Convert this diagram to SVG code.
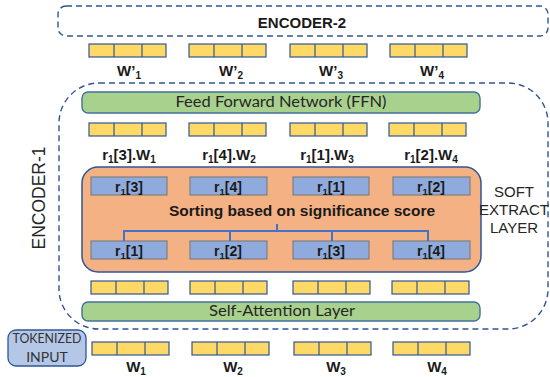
<svg xmlns="http://www.w3.org/2000/svg" width="550" height="377" viewBox="0 0 550 377">
<defs>
<style>
.dash{fill:none;stroke:#2f5597;stroke-width:1.4;stroke-dasharray:6 4}
.y{fill:#ffd966;stroke:#2f5597;stroke-width:1.2}
.dv{stroke:#2f5597;stroke-width:1.2}
.g{fill:#a9d18e;stroke:#41719c;stroke-width:1.4}
.b{fill:#8faadc;stroke:#7f7f7f;stroke-width:1.2}
.bl{font-family:"Liberation Sans",Arial,sans-serif;font-weight:bold;font-size:15px;fill:#1a1a1a;text-anchor:middle}
.bb{font-family:"Liberation Sans",Arial,sans-serif;font-weight:bold;font-size:14px;fill:#1a1a1a;text-anchor:middle}
.n{font-family:"Liberation Sans",Arial,sans-serif;font-size:15px;fill:#262626;text-anchor:middle}
.c{font-family:Lato,"Liberation Sans",sans-serif;font-size:15.5px;fill:#262626;text-anchor:middle}
.con{fill:none;stroke:#4472c4;stroke-width:2}
</style>
<g id="vec">
<rect class="y" x="0" y="0" width="77" height="13"/>
<line class="dv" x1="25" y1="0" x2="25" y2="13"/>
<line class="dv" x1="53" y1="0" x2="53" y2="13"/>
</g>
</defs>

<g id="encoder2">
<rect class="dash" x="58" y="6" width="490" height="30" rx="8"/>
<text class="bl" x="302" y="28">ENCODER-2</text>
</g>

<g id="wprime-row">
<use href="#vec" x="89" y="44"/>
<use href="#vec" x="189" y="44"/>
<use href="#vec" x="290" y="44"/>
<use href="#vec" x="390" y="44"/>
<text class="bl" x="129" y="76">W’<tspan dy="3" font-size="10">1</tspan></text>
<text class="bl" x="231" y="76">W’<tspan dy="3" font-size="10">2</tspan></text>
<text class="bl" x="331" y="76">W’<tspan dy="3" font-size="10">3</tspan></text>
<text class="bl" x="432" y="76">W’<tspan dy="3" font-size="10">4</tspan></text>
</g>

<g id="encoder1">
<rect class="dash" x="59" y="83" width="489" height="246" rx="40"/>
<text class="n" style="font-size:17.5px" transform="translate(45,198) rotate(-90)">ENCODER-1</text>
</g>

<g id="ffn">
<rect class="g" x="82" y="92" width="398" height="21" rx="6"/>
<text class="c" x="281" y="107" textLength="211" lengthAdjust="spacingAndGlyphs">Feed Forward Network (FFN)</text>
</g>

<g id="ffn-out-row">
<use href="#vec" x="89" y="123"/>
<use href="#vec" x="189" y="123"/>
<use href="#vec" x="290" y="123"/>
<use href="#vec" x="389" y="123"/>
<text class="bl" x="129" y="160">r<tspan dy="3" font-size="10">1</tspan><tspan dy="-3">[3].W</tspan><tspan dy="3" font-size="10">1</tspan></text>
<text class="bl" x="229" y="160">r<tspan dy="3" font-size="10">1</tspan><tspan dy="-3">[4].W</tspan><tspan dy="3" font-size="10">2</tspan></text>
<text class="bl" x="327" y="160">r<tspan dy="3" font-size="10">1</tspan><tspan dy="-3">[1].W</tspan><tspan dy="3" font-size="10">3</tspan></text>
<text class="bl" x="431" y="160">r<tspan dy="3" font-size="10">1</tspan><tspan dy="-3">[2].W</tspan><tspan dy="3" font-size="10">4</tspan></text>
</g>

<g id="soft-extract">
<rect x="82" y="167" width="399" height="105" rx="16" fill="#f4b183" stroke="#2f5597" stroke-width="1.5"/>
<text class="bl" x="302" y="216" style="font-size:15.5px">Sorting based on significance score</text>
</g>

<g id="sorted-top">
<rect class="b" x="91" y="177" width="76" height="18"/>
<rect class="b" x="190" y="177" width="77" height="18"/>
<rect class="b" x="293" y="177" width="76" height="18"/>
<rect class="b" x="393" y="177" width="77" height="18"/>
<text class="bb" x="129" y="192">r<tspan dy="3" font-size="9.5">1</tspan><tspan dy="-3">[3]</tspan></text>
<text class="bb" x="228" y="192">r<tspan dy="3" font-size="9.5">1</tspan><tspan dy="-3">[4]</tspan></text>
<text class="bb" x="331" y="192">r<tspan dy="3" font-size="9.5">1</tspan><tspan dy="-3">[1]</tspan></text>
<text class="bb" x="431" y="192">r<tspan dy="3" font-size="9.5">1</tspan><tspan dy="-3">[2]</tspan></text>
</g>

<g id="original-bottom">
<rect class="b" x="91" y="241" width="76" height="18"/>
<rect class="b" x="190" y="241" width="77" height="18"/>
<rect class="b" x="293" y="241" width="76" height="18"/>
<rect class="b" x="393" y="241" width="77" height="18"/>
<text class="bb" x="129" y="256">r<tspan dy="3" font-size="9.5">1</tspan><tspan dy="-3">[1]</tspan></text>
<text class="bb" x="228" y="256">r<tspan dy="3" font-size="9.5">1</tspan><tspan dy="-3">[2]</tspan></text>
<text class="bb" x="331" y="256">r<tspan dy="3" font-size="9.5">1</tspan><tspan dy="-3">[3]</tspan></text>
<text class="bb" x="431" y="256">r<tspan dy="3" font-size="9.5">1</tspan><tspan dy="-3">[4]</tspan></text>
</g>

<g id="connectors">
<path class="con" d="M124 241V231H428V241M230 231V241M332 231V241M277 224V231"/>
</g>

<g id="soft-extract-label">
<text class="n" x="514" y="197">SOFT</text>
<text class="n" x="514" y="215">EXTRACT</text>
<text class="n" x="514" y="233">LAYER</text>
</g>

<g id="sa-in-row">
<use href="#vec" x="91" y="281"/>
<use href="#vec" x="190" y="281"/>
<use href="#vec" x="293" y="281"/>
<use href="#vec" x="392" y="281"/>
</g>

<g id="self-attention">
<rect class="g" x="82" y="302" width="398" height="19" rx="6"/>
<text class="c" x="282" y="316" textLength="146" lengthAdjust="spacingAndGlyphs">Self-Attention Layer</text>
</g>

<g id="tokenized-input">
<rect x="8" y="330" width="78" height="36" rx="8" fill="#b4c7e7" stroke="#2f5597" stroke-width="1.3"/>
<text class="c" style="font-size:14px;fill:#333" x="47" y="343" textLength="69" lengthAdjust="spacingAndGlyphs">TOKENIZED</text>
<text class="c" style="font-size:14px;fill:#333" x="47" y="362">INPUT</text>
</g>

<g id="input-row">
<use href="#vec" x="92" y="342"/>
<use href="#vec" x="192" y="342"/>
<use href="#vec" x="294" y="342"/>
<use href="#vec" x="393" y="342"/>
<text class="bl" x="136" y="372">W<tspan dy="3" font-size="10">1</tspan></text>
<text class="bl" x="233" y="372">W<tspan dy="3" font-size="10">2</tspan></text>
<text class="bl" x="336" y="372">W<tspan dy="3" font-size="10">3</tspan></text>
<text class="bl" x="437" y="372">W<tspan dy="3" font-size="10">4</tspan></text>
</g>
</svg>
